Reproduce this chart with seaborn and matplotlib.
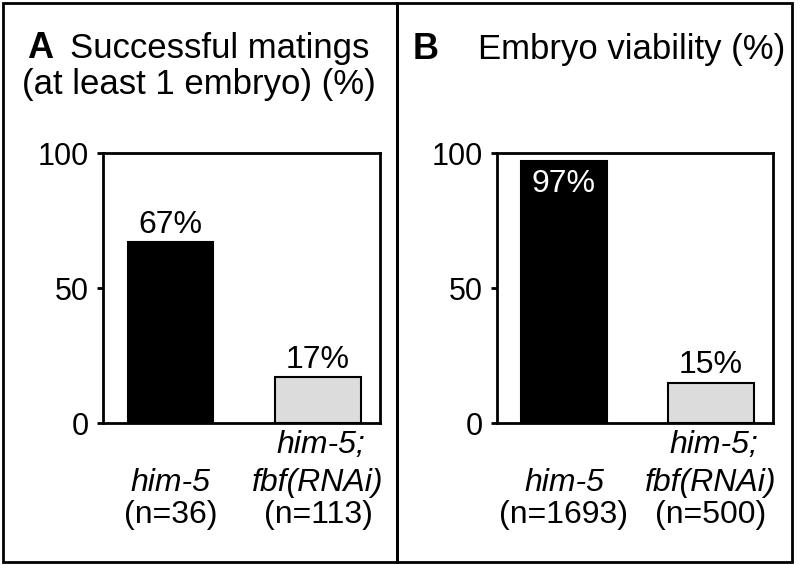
import matplotlib
matplotlib.use('Agg')
import matplotlib.pyplot as plt
import seaborn as sns
from matplotlib.patches import Rectangle

# Data
genotypes = ['him-5', 'him-5; fbf(RNAi)']
matings_pct = [67, 17]
viability_pct = [97, 15]
n_matings = [36, 113]
n_viability = [1693, 500]
bar_colors = ['black', '#dcdcdc']

sns.set_style('ticks')
plt.rcParams['font.family'] = ['Liberation Sans', 'DejaVu Sans']
plt.rcParams['text.color'] = 'black'
plt.rcParams['axes.edgecolor'] = 'black'
plt.rcParams['ytick.color'] = 'black'
plt.rcParams['ytick.labelcolor'] = 'black'

fig = plt.figure(figsize=(8, 5.65), dpi=100)

# panel frames
fig.add_artist(Rectangle((0.004, 0.005), 0.492, 0.99, transform=fig.transFigure,
                         fill=False, edgecolor='black', linewidth=2))
fig.add_artist(Rectangle((0.496, 0.005), 0.494, 0.99, transform=fig.transFigure,
                         fill=False, edgecolor='black', linewidth=2))

axA = fig.add_axes([0.129, 0.251, 0.346, 0.478])
axB = fig.add_axes([0.621, 0.251, 0.345, 0.478])


def draw_panel(ax, values, ns, inside_first):
    sns.barplot(x=genotypes, y=values, hue=genotypes, palette=bar_colors,
                edgecolor='black', linewidth=1.5, width=0.58, legend=False, ax=ax)
    ax.set_xlim(-0.457, 1.42)
    ax.set_ylim(0, 100)
    ax.set_yticks([0, 50, 100])
    ax.set_xticks([])
    ax.set_xlabel('')
    ax.set_ylabel('')
    ax.tick_params(axis='y', length=4, width=2, labelsize=22, pad=6)
    for sp in ax.spines.values():
        sp.set_visible(True)
        sp.set_linewidth(2)

    # value labels
    for i, v in enumerate(values):
        if i == 0 and inside_first:
            ax.text(i, v - 3, f'{v}%', ha='center', va='top', color='white', fontsize=23)
        else:
            ax.text(i, v + 1, f'{v}%', ha='center', va='bottom', color='black', fontsize=23)

    # category labels below axis
    ax.annotate('him-5', xy=(0, 0), xytext=(0, -43), textcoords='offset points',
                ha='center', va='center', fontsize=23, style='italic',
                annotation_clip=False)
    ax.annotate(f'(n={ns[0]})', xy=(0, 0), xytext=(0, -66), textcoords='offset points',
                ha='center', va='center', fontsize=23, annotation_clip=False)
    ax.annotate('him-5;', xy=(1, 0), xytext=(2, -16), textcoords='offset points',
                ha='center', va='center', fontsize=23, style='italic',
                annotation_clip=False)
    ax.annotate('fbf(RNAi)', xy=(1, 0), xytext=(0, -43), textcoords='offset points',
                ha='center', va='center', fontsize=23, style='italic',
                annotation_clip=False)
    ax.annotate(f'(n={ns[1]})', xy=(1, 0), xytext=(0, -66), textcoords='offset points',
                ha='center', va='center', fontsize=23, annotation_clip=False)


draw_panel(axA, matings_pct, n_matings, inside_first=False)
draw_panel(axB, viability_pct, n_viability, inside_first=True)

# panel titles
fig.text(0.034, 0.915, 'A', fontsize=26, fontweight='bold', va='center')
fig.text(0.088, 0.915, 'Successful matings', fontsize=25, va='center')
fig.text(0.028, 0.85, '(at least 1 embryo) (%)', fontsize=25, va='center')
fig.text(0.516, 0.912, 'B', fontsize=26, fontweight='bold', va='center')
fig.text(0.597, 0.912, 'Embryo viability (%)', fontsize=25, va='center')

fig.savefig('out.png', dpi=100)
